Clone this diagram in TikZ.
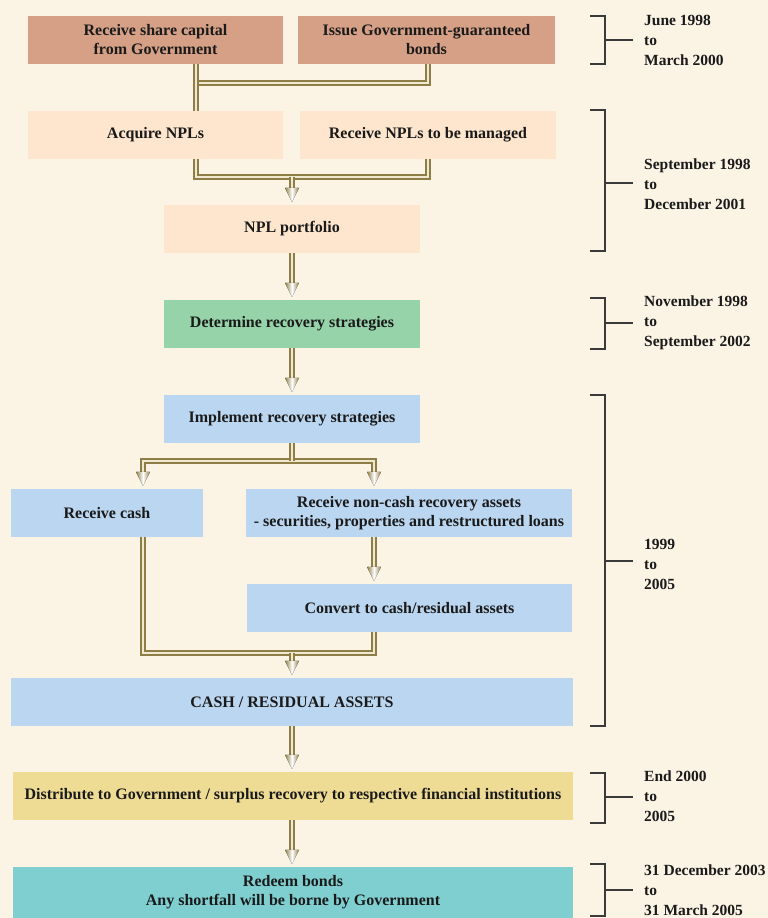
\documentclass[tikz,border=0pt]{standalone}
\usepackage{fontspec}
\setmainfont{Liberation Serif}
\usetikzlibrary{calc}
\definecolor{bg}{HTML}{FBF3E4}
\definecolor{rust}{HTML}{D5A085}
\definecolor{peach}{HTML}{FDE6CD}
\definecolor{mint}{HTML}{96D3A9}
\definecolor{sky}{HTML}{BBD6F0}
\definecolor{straw}{HTML}{EEDC95}
\definecolor{tealb}{HTML}{80CFD0}
\definecolor{oliveD}{HTML}{8E7E45}
\definecolor{oliveL}{HTML}{EFE9D2}
\definecolor{ink}{HTML}{1A1A1A}
\definecolor{brk}{HTML}{3A3A3A}
\tikzset{
  box/.style={minimum height=48pt, inner sep=2pt, align=center, draw=none,
    font=\fontsize{16}{19}\selectfont\bfseries, text=ink, anchor=center},
  conn/.style={draw=oliveD, double=oliveL, line width=2pt, double distance=2.2pt},
  tipshade/.style={left color=oliveD, right color=oliveD, middle color=white, draw=none},
  brack/.style={draw=brk, line width=1.1pt},
  datelbl/.style={align=left, anchor=west, inner sep=0pt, text=ink,
    font=\fontsize{15.5}{20}\selectfont\bfseries}
}
\newcommand\tipto[1]{\fill[tipshade] ($(#1)+(-7,-17)$) -- ($(#1)+(7,-17)$) -- ($(#1)+(0,-3)$) -- cycle;}
\newcommand\arr[2]{\draw[conn] (#1) -- ($(#2)+(0,-16)$); \tipto{#2}}
\newcommand\bracket[3]{%
  \draw[brack] (590,#1) -- (605,#1) -- (605,#2) -- (590,#2);
  \draw[brack] (605,#3) -- (633,#3);}
\begin{document}
\begin{tikzpicture}[x=1pt,y=-1pt]
\useasboundingbox (0,0) rectangle (768,918);
\fill[bg] (0,0) rectangle (768,918);

% boxes
\node[box, fill=rust, minimum width=255pt] (b1) at (155.5,40) {Receive share capital\\from Government};
\node[box, fill=rust, minimum width=257pt] (b2) at (426.5,40) {Issue Government-guaranteed\\bonds};
\node[box, fill=peach, minimum width=255pt] (b3) at (155.5,135) {Acquire NPLs};
\node[box, fill=peach, minimum width=256pt] (b4) at (428,135) {Receive NPLs to be managed};
\node[box, fill=peach, minimum width=256pt] (b5) at (292,229) {NPL portfolio};
\node[box, fill=mint, minimum width=256pt] (b6) at (292,324) {Determine recovery strategies};
\node[box, fill=sky, minimum width=256pt] (b7) at (292,419) {Implement recovery strategies};
\node[box, fill=sky, minimum width=192pt] (b8) at (107,513) {Receive cash};
\node[box, fill=sky, minimum width=326pt] (b9) at (409,513) {Receive non-cash recovery assets\\- securities, properties and restructured loans};
\node[box, fill=sky, minimum width=325pt] (b10) at (409.5,608) {Convert to cash/residual assets};
\node[box, fill=sky, minimum width=562pt] (b11) at (292,702) {CASH / RESIDUAL ASSETS};
\node[box, fill=straw, minimum width=560pt] (b12) at (293,796) {Distribute to Government / surplus recovery to respective financial institutions};
\node[box, fill=tealb, minimum width=560pt, minimum height=51pt] (b13) at (293,892.5) {Redeem bonds\\Any shortfall will be borne by Government};

% connectors
\coordinate (ja) at (196,83);
\coordinate (jb) at (428,83);
\draw[conn] (b2.south -| jb) -- (jb) -- (ja);
\draw[conn] (b1.south -| ja) -- (b3.north -| ja);

\coordinate (jc) at (196,177);
\coordinate (jd) at (428,177);
\coordinate (jm) at (292,177);
\draw[conn] (b3.south -| jc) -- (jc) -- (jd) -- (b4.south -| jd);
\coordinate (t5) at (b5.north -| jm);
\arr{jm}{t5}

\arr{b5.south}{b6.north}
\arr{b6.south}{b7.north}

\coordinate (jl) at (143,461);
\coordinate (jr) at (374,461);
\coordinate (t8) at (b8.north -| jl);
\coordinate (t9) at (b9.north -| jr);
\draw[conn] ($(t8)+(0,-16)$) -- (jl) -- (jr) -- ($(t9)+(0,-16)$);
\draw[conn] (b7.south) -- (b7.south |- jl);
\tipto{t8}
\tipto{t9}

\coordinate (s9) at (b9.south -| jr);
\coordinate (t10) at (b10.north -| jr);
\arr{s9}{t10}

\coordinate (kl) at (143,653);
\coordinate (kr) at (374,653);
\coordinate (km) at (292,653);
\draw[conn] (b8.south -| kl) -- (kl) -- (kr) -- (b10.south -| kr);
\coordinate (t11) at (b11.north -| km);
\arr{km}{t11}

\coordinate (s11) at (b11.south -| km);
\coordinate (t12) at (b12.north -| km);
\arr{s11}{t12}
\coordinate (s12) at (b12.south -| km);
\coordinate (t13) at (b13.north -| km);
\arr{s12}{t13}

% brackets and dates
\bracket{16}{64}{40}
\node[datelbl] (d1) at (644,40) {June 1998\\to\\March 2000};
\bracket{110}{251}{183}
\node[datelbl] (d2) at (644,184) {September 1998\\to\\December 2001};
\bracket{298}{349}{323}
\node[datelbl] (d3) at (644,323) {November 1998\\to\\September 2002};
\bracket{395}{726}{561}
\node[datelbl] (d4) at (644,564) {1999\\to\\2005};
\bracket{773}{823}{797}
\node[datelbl] (d5) at (644,796) {End 2000\\to\\2005};
\bracket{864}{916}{890}
\node[datelbl] (d6) at (644,890) {31 December 2003\\to\\31 March 2005};
\end{tikzpicture}
\end{document}
